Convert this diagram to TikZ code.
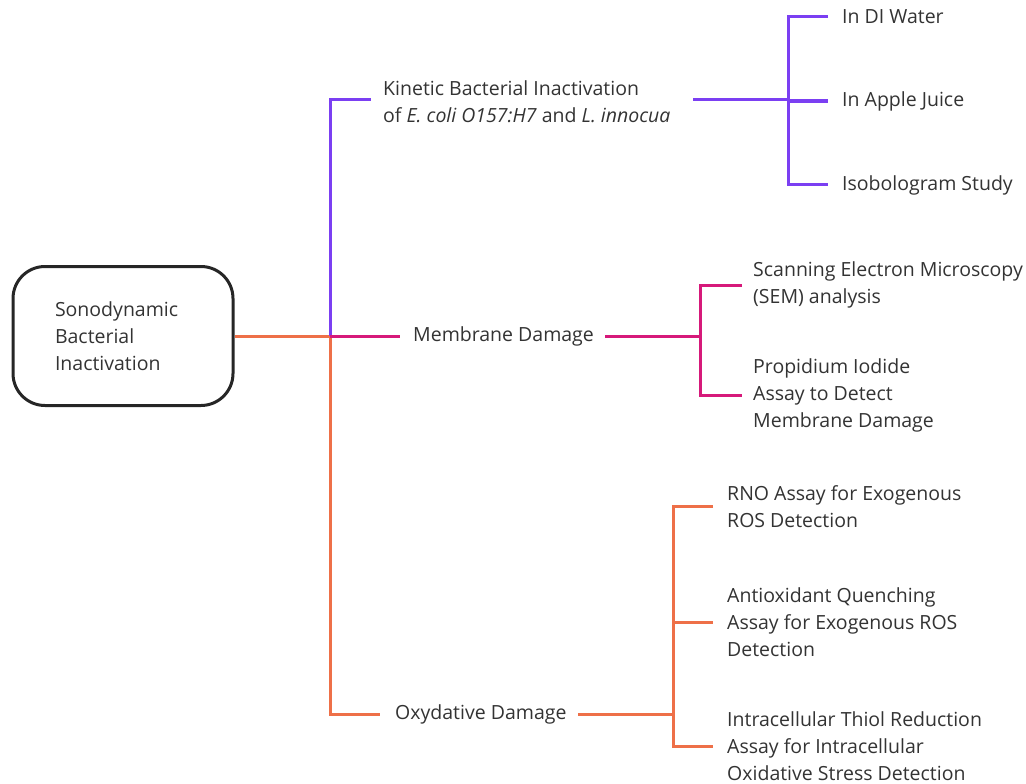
\documentclass[tikz,border=0pt]{standalone}
\usepackage{fontspec}
\setmainfont{Open Sans}
\definecolor{pur}{HTML}{7B3FF2}
\definecolor{mag}{HTML}{D6197A}
\definecolor{org}{HTML}{EE7048}
\definecolor{txt}{HTML}{333333}
\begin{document}
\begin{tikzpicture}[x=1pt,y=-1pt,
  lbl/.style={anchor=west,inner sep=0pt,align=left,text=txt,font=\fontsize{19.5}{27}\selectfont},
  conn/.style={line width=3pt},
  rootbox/.style={draw=black!85,line width=3pt,rounded corners=32pt,minimum height=139pt,text width=136pt,inner xsep=42pt,align=left,text=txt,font=\fontsize{19.5}{27}\selectfont}]
\useasboundingbox (0,0) rectangle (1026,784);
% nodes
\node[rootbox] (root) at (123,336) {Sonodynamic\\Bacterial\\Inactivation};
\node[lbl] (kin) at (383,101.5) {Kinetic Bacterial Inactivation\\of \textit{E. coli O157:H7} and \textit{L. innocua}};
\node[lbl] (t11) at (842,17) {In DI Water};
\node[lbl] (t12) at (842,101) {In Apple Juice};
\node[lbl] (t13) at (842,185) {Isobologram Study};
\node[lbl] (mem) at (413,336) {Membrane Damage};
\node[lbl] (sem) at (753,285) {Scanning Electron Microscopy\\(SEM) analysis};
\node[lbl] (prop) at (753,395) {Propidium Iodide\\Assay to Detect\\Membrane Damage};
\node[lbl] (ox) at (395,714) {Oxydative Damage};
\node[lbl] (rno) at (727,506.5) {RNO Assay for Exogenous\\ROS Detection};
\node[lbl] (anti) at (727,622) {Antioxidant Quenching\\Assay for Exogenous ROS\\Detection};
\node[lbl] (thiol) at (727,746) {Intracellular Thiol Reduction\\Assay for Intracellular\\Oxidative Stress Detection};
% coordinates
\coordinate (j0) at (330,336);
\coordinate (kinL) at (371,100);
\coordinate (kinR) at (693,100);
\coordinate (j1) at (788,100);
\coordinate (c11) at (828,17);
\coordinate (c12) at (828,101);
\coordinate (c13) at (828,184);
\coordinate (memL) at (400,336);
\coordinate (memR) at (605,336);
\coordinate (j2) at (700,336);
\coordinate (c21) at (742,285);
\coordinate (c22) at (742,395);
\coordinate (oxL) at (380,714);
\coordinate (oxR) at (578,714);
\coordinate (j3) at (673,714);
\coordinate (c31) at (713,506);
\coordinate (c32) at (713,622);
\coordinate (c33) at (713,746);
% connectors
\draw[conn,org] (root.east) -- (j0);
\draw[conn,org] (j0) |- (oxL);
\draw[conn,pur] (j0) |- (kinL);
\draw[conn,mag] (j0) -- (memL);
\draw[conn,pur] (kinR) -- (j1);
\draw[conn,pur] (c11) -| (j1) |- (c13);
\draw[conn,pur] (j1 |- c12) -- (c12);
\draw[conn,mag] (memR) -- (j2);
\draw[conn,mag] (c21) -| (j2) |- (c22);
\draw[conn,org] (oxR) -- (j3);
\draw[conn,org] (c31) -| (j3) |- (c33);
\draw[conn,org] (j3 |- c32) -- (c32);
\end{tikzpicture}
\end{document}
